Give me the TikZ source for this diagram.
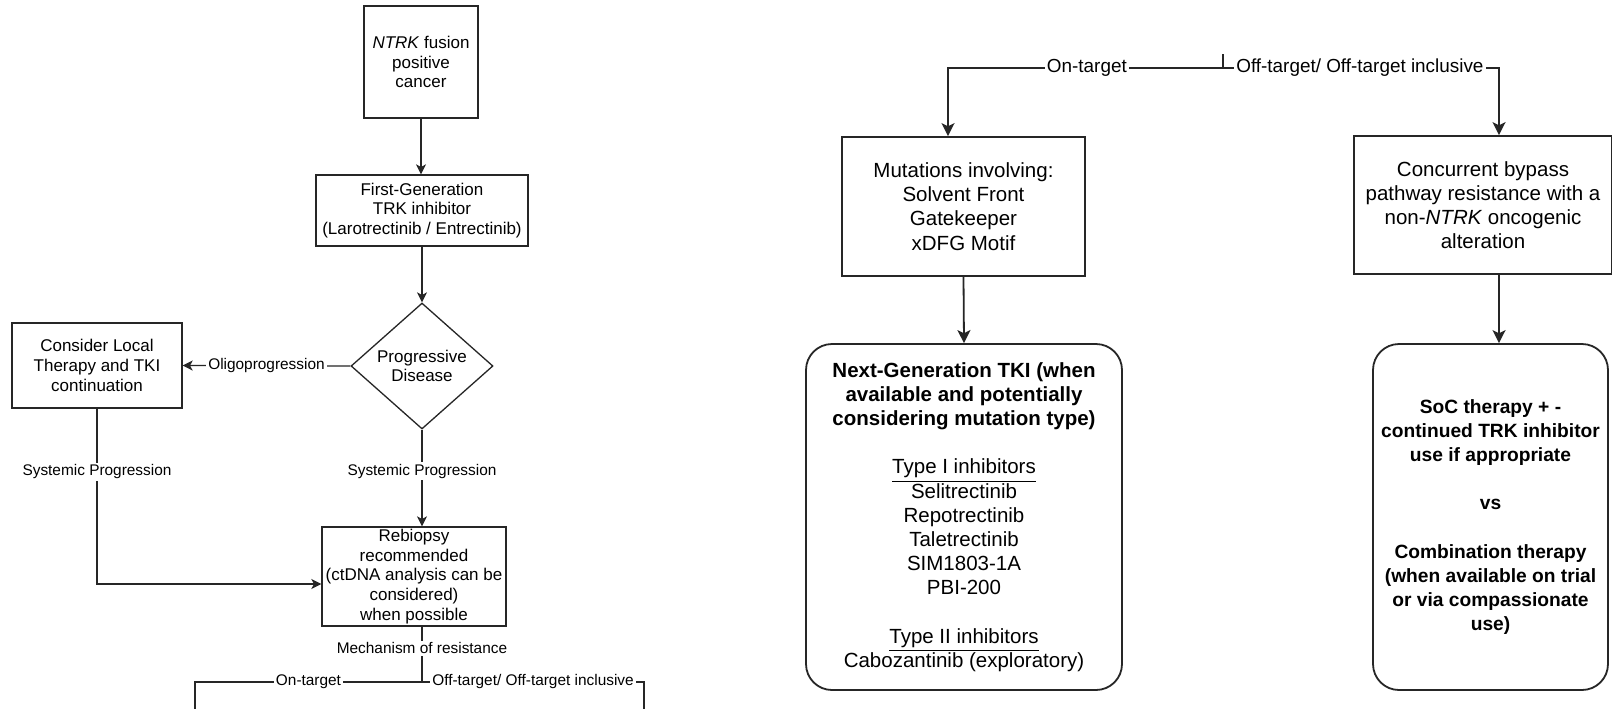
\documentclass[tikz,border=0pt]{standalone}
\usepackage{fontspec}
\setmainfont{Liberation Sans}
\usetikzlibrary{shapes.geometric,arrows.meta}
\definecolor{ink}{HTML}{262626}
\newcommand\leftsz{\fontsize{8.5pt}{9.8pt}\selectfont}
\newcommand\leftlblsz{\fontsize{7.7pt}{9pt}\selectfont}
\newcommand\rightsz{\fontsize{10.25pt}{12.1pt}\selectfont}
\newcommand\socsz{\fontsize{9.6pt}{12.1pt}\selectfont}
\newcommand\rightlblsz{\fontsize{9.45pt}{11pt}\selectfont}
\tikzset{
  lline/.style={draw=ink, line width=0.65pt},
  larr/.style={lline, -{Stealth[length=5pt,width=5pt,inset=1.3pt]}},
  lbox/.style={lline, align=center, font=\leftsz, inner sep=1pt},
  ldiam/.style={lbox, shape=diamond, inner sep=0pt, minimum width=71pt, minimum height=63pt},
  llabel/.style={fill=white, font=\leftlblsz, inner sep=1pt},
  rline/.style={draw=ink, line width=0.9pt},
  rarr/.style={rline, -{Stealth[length=6.5pt,width=6.5pt,inset=1.6pt]}},
  rbox/.style={rline, align=center, font=\rightsz, inner sep=1pt},
  rround/.style={rbox, rounded corners=13pt},
  rlabel/.style={fill=white, font=\rightlblsz, inner sep=1pt}
}
\begin{document}
\begin{tikzpicture}[x=0.5pt,y=-0.5pt]
\useasboundingbox[fill=white] (0,0) rectangle (1612,708);

% ---------- overview flowchart ----------
\node[lbox, minimum width=57pt, minimum height=56pt] (ntrk) at (421,62)
  {\textit{NTRK} fusion\\positive\\cancer};
\node[lbox, minimum width=106pt, minimum height=35.5pt] (first) at (422,210.5)
  {First-Generation\\TRK inhibitor\\(Larotrectinib / Entrectinib)};
\node[ldiam] (pd) at (422,366) {Progressive\\Disease};
\node[lbox, minimum width=85pt, minimum height=42.5pt] (local) at (97,365.5)
  {Consider Local\\Therapy and TKI\\continuation};
\node[lbox, minimum width=92pt, minimum height=49.5pt] (rebiopsy) at (414,576.5)
  {Rebiopsy\\recommended\\(ctDNA analysis can be\\considered)\\when possible};

\draw[larr] (ntrk.south) -- (ntrk.south |- first.north);
\draw[larr] (first.south) -- (pd.north);
\draw[larr] (pd.west) -- node[llabel]{Oligoprogression} (local.east);
\draw[larr] (pd.south) -- node[llabel,pos=0.43]{Systemic Progression} (pd.south |- rebiopsy.north);
\coordinate (rebin) at ([yshift=-3.75pt]rebiopsy.west);
\draw[larr] (local.south) |- node[llabel,pos=0.18]{Systemic Progression} (rebin);

\coordinate (j1) at (422,682);
\coordinate (endl) at (195,714);
\coordinate (endr) at (644,714);
\draw[lline] (pd.south |- rebiopsy.south) -- node[llabel,pos=0.39]{Mechanism of resistance} (j1);
\draw[lline] (j1) -- node[llabel,pos=0.5]{On-target} (j1 -| endl) -- (endl);
\draw[lline] (j1) -- node[llabel,pos=0.5]{Off-target/ Off-target inclusive} (j1 -| endr) -- (endr);

% ---------- resistance mechanism detail ----------
\node[rbox, minimum width=121.5pt, minimum height=69.5pt] (mut) at (963.5,206.5)
  {Mutations involving:\\Solvent Front\\Gatekeeper\\xDFG Motif};
\node[rbox, minimum width=129pt, minimum height=69pt] (conc) at (1483,205)
  {Concurrent bypass\\pathway resistance with a\\non-\textit{NTRK} oncogenic\\alteration};
\node[rround, minimum width=158pt, minimum height=173pt] (nextgen) at (964,517)
  {\textbf{Next-Generation TKI (when}\\\textbf{available and potentially}\\\textbf{considering mutation type)}\\[12.1pt]
   \underline{Type I inhibitors}\\Selitrectinib\\Repotrectinib\\Taletrectinib\\SIM1803-1A\\PBI-200\\[12.1pt]
   \underline{Type II inhibitors}\\Cabozantinib (exploratory)};
\node[rround, font=\socsz, minimum width=117.5pt, minimum height=173pt] (soc) at (1490.5,517)
  {\textbf{SoC therapy + -}\\\textbf{continued TRK inhibitor}\\\textbf{use if appropriate}\\[12.1pt]
   \textbf{vs}\\[12.1pt]
   \textbf{Combination therapy}\\\textbf{(when available on trial}\\\textbf{or via compassionate}\\\textbf{use)}};

\coordinate (j2) at (1223,68);
\coordinate (stub) at (1223,54);
\coordinate (mutin) at ([xshift=-7.75pt]mut.north);
\coordinate (concin) at ([xshift=8pt]conc.north);
\coordinate (concout) at ([xshift=8pt]conc.south);
\draw[rline] (stub) -- (j2);
\draw[rarr] (j2) -- node[rlabel,pos=0.495]{On-target} (mutin |- j2) -- (mutin);
\draw[rarr] (j2) -- node[rlabel,pos=0.496]{Off-target/ Off-target inclusive} (concin |- j2) -- (concin);
\draw[rarr] (mut.south) -- (nextgen.north);
\draw[rarr] (concout) -- (concout |- soc.north);
\end{tikzpicture}
\end{document}
